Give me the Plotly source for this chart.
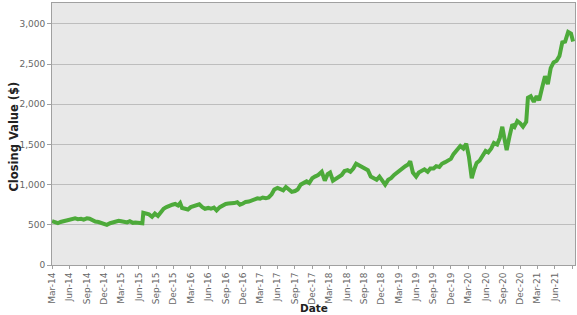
import plotly.graph_objects as go

dates = [
"2014-03-01","2014-03-15","2014-04-01","2014-04-15","2014-05-01","2014-05-15","2014-06-01","2014-06-15",
"2014-07-01","2014-07-15","2014-08-01","2014-08-15","2014-09-01","2014-09-15","2014-10-01","2014-10-15",
"2014-11-01","2014-11-15","2014-12-01","2014-12-15","2015-01-01","2015-01-15","2015-02-01","2015-02-15",
"2015-03-01","2015-03-15","2015-04-01","2015-04-15","2015-05-01","2015-05-15","2015-06-01","2015-06-20",
"2015-06-25","2015-07-10","2015-07-25","2015-08-10","2015-08-25","2015-09-10","2015-09-25","2015-10-10",
"2015-10-25","2015-11-10","2015-11-25","2015-12-10","2015-12-25","2016-01-05","2016-01-15","2016-02-01",
"2016-02-15","2016-03-01","2016-03-15","2016-04-01","2016-04-15","2016-05-01","2016-05-15","2016-06-01",
"2016-06-15","2016-07-01","2016-07-15","2016-08-01","2016-08-15","2016-09-01","2016-09-15","2016-10-01",
"2016-10-15","2016-11-01","2016-11-15","2016-12-01","2016-12-15","2017-01-01","2017-01-15","2017-02-01",
"2017-02-15","2017-03-01","2017-03-15","2017-04-01","2017-04-15","2017-05-01","2017-05-15","2017-06-01",
"2017-06-15","2017-07-01","2017-07-15","2017-08-01","2017-08-15","2017-09-01","2017-09-15","2017-10-01",
"2017-10-15","2017-11-01","2017-11-15","2017-12-01","2017-12-15","2018-01-01","2018-01-20","2018-02-05",
"2018-02-20","2018-03-05","2018-03-20","2018-04-05","2018-04-20","2018-05-05","2018-05-20","2018-06-05",
"2018-06-20","2018-07-05","2018-07-20","2018-08-05","2018-08-20","2018-09-05","2018-09-20","2018-10-05",
"2018-10-20","2018-11-05","2018-11-20","2018-12-05","2018-12-20","2019-01-05","2019-01-20","2019-02-05",
"2019-02-20","2019-03-05","2019-03-20","2019-04-05","2019-04-20","2019-05-01","2019-05-15","2019-06-01",
"2019-06-15","2019-07-01","2019-07-15","2019-08-01","2019-08-15","2019-09-01","2019-09-15","2019-10-01",
"2019-10-15","2019-11-01","2019-11-15","2019-12-01","2019-12-15","2020-01-01","2020-01-20","2020-02-05",
"2020-02-20","2020-03-05","2020-03-20","2020-04-01","2020-04-15","2020-05-01","2020-05-15","2020-06-01",
"2020-06-15","2020-07-01","2020-07-15","2020-08-01","2020-08-15","2020-08-28","2020-09-10","2020-09-20",
"2020-10-05","2020-10-20","2020-11-01","2020-11-15","2020-12-01","2020-12-15","2021-01-01","2021-01-10",
"2021-01-25","2021-02-10","2021-02-25","2021-03-10","2021-03-25","2021-04-10","2021-04-25","2021-05-10",
"2021-05-25","2021-06-10","2021-06-25","2021-07-10","2021-07-25","2021-08-10","2021-08-25","2021-09-05",
]

closing_values = [
545,530,520,535,545,555,560,570,
580,570,575,565,580,575,550,540,
535,525,510,500,520,530,540,550,
545,540,530,545,525,530,525,520,
650,640,630,600,640,610,660,700,
720,740,750,760,740,770,710,700,
690,720,730,745,755,720,700,710,
700,715,680,720,740,760,765,765,
770,780,750,765,785,790,800,810,
830,825,840,830,840,880,940,960,
950,930,970,930,910,920,940,1000,
1020,1040,1020,1080,1100,1120,1160,1050,
1130,1150,1050,1070,1100,1120,1170,1180,
1160,1200,1260,1240,1230,1200,1180,1100,
1080,1060,1100,1040,1000,1060,1080,1120,
1150,1170,1200,1230,1250,1290,1150,1100,
1150,1170,1190,1160,1200,1200,1230,1220,
1260,1280,1300,1320,1380,1420,1480,1450,
1510,1350,1080,1180,1270,1300,1350,1420,
1400,1450,1520,1500,1580,1720,1550,1430,
1600,1750,1720,1790,1760,1720,1780,2080,
2100,2030,2100,2050,2200,2350,2250,2450,
2520,2540,2600,2770,2780,2900,2880,2780,
]

x_title = "Date"
y_title = "Closing Value ($)"

font_family = "DejaVu Sans, Verdana, sans-serif"

fig = go.Figure()
fig.add_trace(go.Scatter(
    x=dates, y=closing_values, mode="lines",
    line=dict(color="#4DAA3A", width=4),
    showlegend=False,
))

fig.update_layout(
    width=577, height=315,
    margin=dict(l=52, r=2, t=3, b=50),
    paper_bgcolor="white",
    plot_bgcolor="#E8E8E8",
    font=dict(family=font_family, size=9, color="#666666"),
    xaxis=dict(
        type="date",
        range=["2014-03-01", "2021-09-15"],
        tickformat="%b-%y",
        dtick="M3",
        tick0="2014-03-01",
        tickangle=-90,
        showgrid=False,
        showline=True, linecolor="#A0A0A0", linewidth=1, mirror=True,
        ticks="outside", ticklen=3, tickcolor="#A0A0A0",
        tickfont=dict(family=font_family, size=9, color="#666666"),
        automargin=False,
    ),
    yaxis=dict(
        range=[0, 3260],
        dtick=500,
        tickformat=",",
        showgrid=True, gridcolor="#BDBDBD", gridwidth=1,
        zeroline=False,
        showline=True, linecolor="#A0A0A0", linewidth=1, mirror=True,
        ticks="outside", ticklen=4, tickcolor="#A0A0A0",
        tickfont=dict(family=font_family, size=9, color="#666666"),
        automargin=False,
    ),
    annotations=[
        dict(text="<b>" + x_title + "</b>", xref="paper", yref="paper",
             x=0.5, y=-0.164, xanchor="center", yanchor="middle", showarrow=False,
             font=dict(family=font_family, size=10.5, color="#222222")),
        dict(text="<b>" + y_title + "</b>", xref="paper", yref="paper",
             x=-0.0727, y=0.49, xanchor="center", yanchor="middle", showarrow=False,
             textangle=-90,
             font=dict(family=font_family, size=11.5, color="#222222")),
    ],
)

fig.write_html("out.html")
